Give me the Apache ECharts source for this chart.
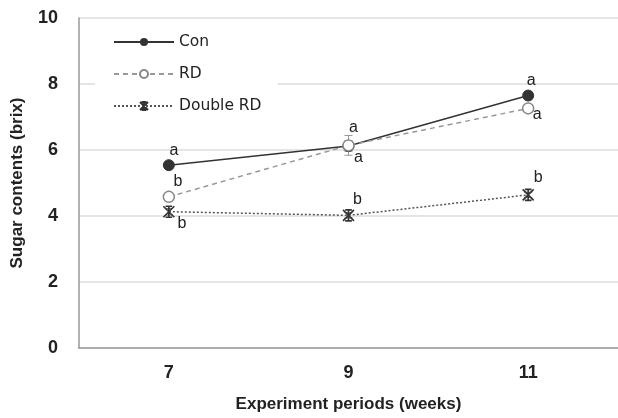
<!DOCTYPE html>
<html><head><meta charset="utf-8">
<script src="https://cdn.jsdelivr.net/npm/echarts@6/dist/echarts.min.js"></script>
<style>html,body{margin:0;padding:0;background:#fff}#c{width:618px;height:418px}</style>
</head><body><div id="c"></div>
<script>
const categories = ['7', '9', '11'];
const conValues = [5.54, 6.12, 7.65];
const rdValues = [4.58, 6.14, 7.26];
const drdValues = [4.13, 4.02, 4.64];
const conErr = [0.1, 0.15, 0.12];
const rdErr = [0.12, 0.3, 0.12];
const drdErr = [0.1, 0.08, 0.08];
const conLetters = ['a', 'a', 'a'];
const rdLetters = ['b', 'a', 'a'];
const drdLetters = ['b', 'b', 'b'];
const yTicks = [0, 2, 4, 6, 8, 10];

const conOff = [[5, -15], [5, -18], [3, -15]];
const rdOff = [[9, -15], [10, 12], [9, 6]];
const drdOff = [[13, 12], [9, -16], [10, -17]];

function mk(vals, letters, offs) {
  return vals.map((v, i) => ({
    value: v,
    label: {show: true, formatter: letters[i], position: 'inside', offset: offs[i],
      color: '#222', fontSize: 16, fontFamily: 'Liberation Sans'}
  }));
}
function errSeries(vals, errs, color) {
  return {
    type: 'custom', silent: true, z: 1,
    data: vals.map((v, i) => [i, v - errs[i], v + errs[i]]),
    renderItem: function (params, api) {
      const lo = api.coord([api.value(0), api.value(1)]);
      const hi = api.coord([api.value(0), api.value(2)]);
      const w = 4;
      const st = {stroke: color, lineWidth: 1};
      return {type: 'group', children: [
        {type: 'line', shape: {x1: lo[0], y1: lo[1], x2: hi[0], y2: hi[1]}, style: st},
        {type: 'line', shape: {x1: lo[0] - w, y1: lo[1], x2: lo[0] + w, y2: lo[1]}, style: st},
        {type: 'line', shape: {x1: hi[0] - w, y1: hi[1], x2: hi[0] + w, y2: hi[1]}, style: st}
      ]};
    }
  };
}
const star = 'path://M0,0 L10,10 M10,0 L0,10 M2,0 L8,0 M2,10 L8,10 M5,0 L5,10';

const chart = echarts.init(document.getElementById('c'));
chart.setOption({
  animation: false,
  backgroundColor: '#fff',
  grid: {left: 79, top: 18, width: 540, bottom: 69},
  legend: {
    orient: 'vertical', left: 95, top: 30, itemWidth: 60, itemHeight: 10, itemGap: 16,
    backgroundColor: '#fff', padding: [4, 16, 4, 18],
    textStyle: {fontSize: 15.5, color: '#222', fontFamily: 'DejaVu Sans'},
    data: ['Con', 'RD', 'Double RD']
  },
  xAxis: {
    type: 'category', data: categories, boundaryGap: true,
    name: 'Experiment periods (weeks)', nameLocation: 'middle', nameGap: 48,
    nameTextStyle: {fontSize: 17, fontWeight: 'bold', color: '#222', fontFamily: 'Liberation Sans'},
    axisLine: {lineStyle: {color: '#999', width: 1.5}},
    axisTick: {show: false},
    axisLabel: {margin: 16, fontSize: 18, fontWeight: 'bold', color: '#222', fontFamily: 'Liberation Sans'}
  },
  yAxis: {
    type: 'value', min: 0, max: 10, interval: 2,
    name: 'Sugar contents (brix)', nameLocation: 'middle', nameGap: 53, nameRotate: 90,
    nameTextStyle: {fontSize: 17, fontWeight: 'bold', color: '#222', fontFamily: 'Liberation Sans'},
    axisLine: {show: true, lineStyle: {color: '#999', width: 1.5}},
    axisTick: {show: false},
    splitLine: {lineStyle: {color: '#ddd', width: 1.5}},
    axisLabel: {margin: 21, fontSize: 18, fontWeight: 'bold', color: '#222', fontFamily: 'Liberation Sans',
      formatter: v => yTicks.includes(v) ? String(v) : ''}
  },
  series: [
    errSeries(conValues, conErr, '#444'),
    errSeries(rdValues, rdErr, '#999'),
    errSeries(drdValues, drdErr, '#666'),
    {
      name: 'Con', type: 'line', data: mk(conValues, conLetters, conOff), z: 3,
      symbol: 'circle', symbolSize: 11,
      lineStyle: {color: '#333', width: 1.5, type: 'solid'},
      itemStyle: {color: '#333', borderColor: '#333'}
    },
    {
      name: 'RD', type: 'line', data: mk(rdValues, rdLetters, rdOff), z: 3,
      symbol: 'circle', symbolSize: 11,
      lineStyle: {color: '#999', width: 1.5, type: [5, 4]},
      itemStyle: {color: '#fff', borderColor: '#888', borderWidth: 1.5}
    },
    {
      name: 'Double RD', type: 'line', data: mk(drdValues, drdLetters, drdOff), z: 3,
      symbol: star, symbolSize: 11, showAllSymbol: true,
      lineStyle: {color: '#555', width: 1.5, type: [2, 2]},
      itemStyle: {color: 'rgba(0,0,0,0)', borderColor: '#333', borderWidth: 1.6}
    }
  ]
});
</script></body></html>
